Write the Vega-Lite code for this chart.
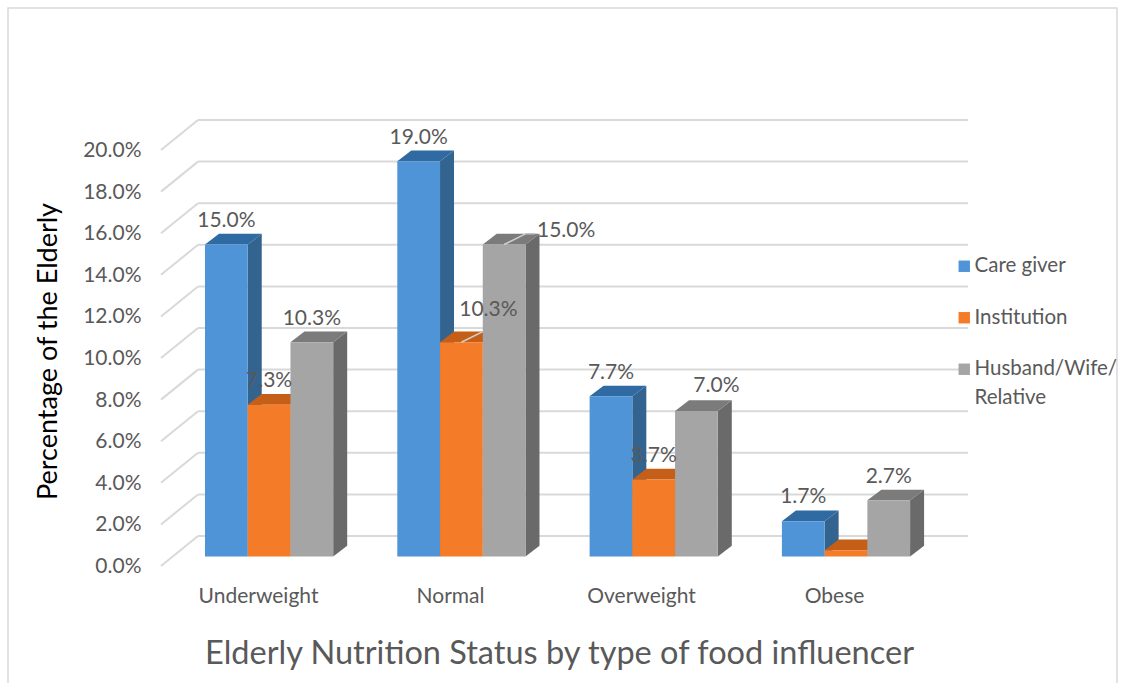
{
"$schema":"https://vega.github.io/schema/vega-lite/v6.json",
"width":1122,"height":683,"autosize":{"type":"none"},"padding":0,"background":"white",
"config":{"view":{"stroke":null},"font":"Lato"},
"resolve":{"axis":{"x":"independent","y":"independent"}},
"data":{"values":[
{"category":"Underweight","series":"Care giver","value":15.0},
{"category":"Underweight","series":"Institution","value":7.3},
{"category":"Underweight","series":"Husband/Wife/Relative","value":10.3},
{"category":"Normal","series":"Care giver","value":19.0},
{"category":"Normal","series":"Institution","value":10.3},
{"category":"Normal","series":"Husband/Wife/Relative","value":15.0},
{"category":"Overweight","series":"Care giver","value":7.7},
{"category":"Overweight","series":"Institution","value":3.7},
{"category":"Overweight","series":"Husband/Wife/Relative","value":7.0},
{"category":"Obese","series":"Care giver","value":1.7},
{"category":"Obese","series":"Institution","value":0.3},
{"category":"Obese","series":"Husband/Wife/Relative","value":2.7}
]},
"transform":[
{"calculate":"indexof(['Underweight','Normal','Overweight','Obese'],datum.category)+indexof(['Care giver','Institution','Husband/Wife/Relative'],datum.series)*0.2222","as":"xL"},
{"calculate":"datum.xL+0.2222","as":"xR"},
{"calculate":"datum.xL+0.1111","as":"xC"},
{"calculate":"datum.value+0.514","as":"topBack"},
{"calculate":"datum.category+datum.series","as":"key"}
],
"layer":[
{"data":{"values":[{"frame":1}]},
 "mark":{"type":"rect","fill":null,"stroke":"#d9d9d9","strokeWidth":1.5},
 "encoding":{
  "x":{"datum":-1.0244,"type":"quantitative","scale":{"domain":[-1.06604,4.76859],"nice":false,"zero":false},
   "axis":{"orient":"bottom","offset":-98,"values":[0.2756,1.274,2.2675,3.271],"labelExpr":"['Underweight','Normal','Overweight','Obese'][floor(datum.value)]","labelFontSize":21,"labelColor":"#595959","labelPadding":0,"labelBaseline":"top","labelOverlap":false,"labelBound":false,"labelFlush":false,"ticks":false,"domain":false,"grid":false,"title":"Elderly Nutrition Status by type of food influencer","titleFontSize":32.5,"titleFontWeight":"normal","titleColor":"#595959","titleX":559,"titleY":68,"titleBaseline":"middle"}},
  "x2":{"datum":4.7426},
  "y":{"datum":26.37,"type":"quantitative","scale":{"domain":[-6.0817,26.7548],"nice":false,"zero":false},
   "axis":{"orient":"left","offset":-161,"values":[0,2,4,6,8,10,12,14,16,18,20],"labelExpr":"format(datum.value,'.1f')+'%'","labelFontSize":21,"labelColor":"#595959","labelPadding":20,"labelOffset":10,"labelOverlap":false,"labelBound":false,"labelFlush":false,"ticks":false,"domain":false,"grid":false,"title":"Percentage of the Elderly","titleFontSize":27,"titleFontWeight":"normal","titleColor":"#000000","titleX":-113,"titleY":351,"titleBaseline":"middle"}},
  "y2":{"datum":-6.4}
 }},
{"data":{"values":[{"v":0},{"v":2},{"v":4},{"v":6},{"v":8},{"v":10},{"v":12},{"v":14},{"v":16},{"v":18},{"v":20}]},
 "transform":[{"calculate":"datum.v+0.985","as":"back"}],
 "mark":{"type":"rule","color":"#d9d9d9","strokeWidth":2},
 "encoding":{"x":{"datum":-0.0364,"type":"quantitative","axis":null},"x2":{"datum":3.968},"y":{"field":"back","type":"quantitative","axis":null}}},
{"data":{"values":[{"v":0},{"v":2},{"v":4},{"v":6},{"v":8},{"v":10},{"v":12},{"v":14},{"v":16},{"v":18},{"v":20}]},
 "transform":[{"calculate":"datum.v+0.985","as":"back"},{"calculate":"datum.v-0.457","as":"front"}],
 "mark":{"type":"rule","color":"#d9d9d9","strokeWidth":2},
 "encoding":{"x":{"datum":-0.2288,"type":"quantitative","axis":null},"x2":{"datum":-0.0364},"y":{"field":"front","type":"quantitative","axis":null},"y2":{"field":"back"}}},
{"transform":[{"calculate":"[0,1]","as":"t"},{"flatten":["t"]},{"calculate":"datum.xR+datum.t*0.0728","as":"px"},{"calculate":"datum.value+datum.t*0.514","as":"py"},{"calculate":"datum.t*0.514","as":"py2"}],
 "mark":{"type":"area","orient":"vertical"},
 "encoding":{"x":{"field":"px","type":"quantitative","axis":null},"y":{"field":"py","type":"quantitative","stack":null,"axis":null},"y2":{"field":"py2"},"detail":{"field":"key"},
  "color":{"condition":[{"test":"datum.series==='Care giver'","value":"#33638f"},{"test":"datum.series==='Institution'","value":"#c55a11"}],"value":"#6a6a6a"}}},
{"transform":[{"calculate":"[0,1]","as":"t"},{"flatten":["t"]},{"calculate":"datum.xL+datum.t*0.0728","as":"px"},{"calculate":"datum.xR+datum.t*0.0728","as":"px2"},{"calculate":"datum.value+datum.t*0.514","as":"py"}],
 "mark":{"type":"area","orient":"horizontal"},
 "encoding":{"y":{"field":"py","type":"quantitative","axis":null},"x":{"field":"px","type":"quantitative","stack":null,"axis":null},"x2":{"field":"px2"},"detail":{"field":"key"},
  "color":{"condition":[{"test":"datum.series==='Care giver'","value":"#2f6aa3"},{"test":"datum.series==='Institution'","value":"#c55f17"}],"value":"#7b7b7b"}}},
{"mark":{"type":"rect"},
 "encoding":{"x":{"field":"xL","type":"quantitative","axis":null},"x2":{"field":"xR"},"y":{"field":"value","type":"quantitative","axis":null},"y2":{"datum":0},
  "color":{"field":"series","type":"nominal","scale":{"domain":["Care giver","Institution","Husband/Wife/Relative"],"range":["#4f94d6","#f47b28","#a5a5a5"]},
   "legend":{"orient":"none","legendX":954,"legendY":256,"title":null,"symbolType":"square","symbolSize":130,"symbolStrokeWidth":0,"labelFontSize":20.5,"labelColor":"#595959","labelOffset":0,"rowPadding":30.5,"labelLimit":200,"labelExpr":"datum.label==='Husband/Wife/Relative'?['Husband/Wife/','Relative']:datum.label","encoding":{"labels":{"lineHeight":{"value":29}}}}}}},
{"transform":[{"filter":"datum.category==='Normal'&&datum.series!=='Care giver'"}],
 "mark":{"type":"rule","color":"#d0d0d0","strokeWidth":1.5},
 "encoding":{"x":{"field":"xC","type":"quantitative","axis":null},"x2":{"field":"xR"},"y":{"field":"value","type":"quantitative","axis":null},"y2":{"field":"topBack"}}},
{"transform":[{"filter":"datum.category==='Normal'&&datum.series==='Husband/Wife/Relative'"},{"calculate":"datum.xR+0.05","as":"xEnd"}],
 "mark":{"type":"rule","color":"#bfbfbf","strokeWidth":1.5},
 "encoding":{"x":{"field":"xR","type":"quantitative","axis":null},"x2":{"field":"xEnd"},"y":{"field":"topBack","type":"quantitative","axis":null}}},
{"transform":[{"filter":"datum.value>=1&&!(datum.category==='Normal'&&datum.series!=='Care giver')&&!(datum.category==='Overweight'&&datum.series==='Husband/Wife/Relative')"},{"calculate":"format(datum.value,'.1f')+'%'","as":"lab"}],
 "mark":{"type":"text","fontSize":21,"color":"#595959","dy":-13,"baseline":"middle"},
 "encoding":{"x":{"field":"xC","type":"quantitative","axis":null},"y":{"field":"topBack","type":"quantitative","axis":null},"text":{"field":"lab"}}},
{"transform":[{"filter":"datum.category==='Normal'&&datum.series==='Institution'"},{"calculate":"format(datum.value,'.1f')+'%'","as":"lab"}],
 "mark":{"type":"text","fontSize":21,"color":"#595959","dx":27,"dy":-22,"baseline":"middle"},
 "encoding":{"x":{"field":"xC","type":"quantitative","axis":null},"y":{"field":"topBack","type":"quantitative","axis":null},"text":{"field":"lab"}}},
{"transform":[{"filter":"datum.category==='Normal'&&datum.series==='Husband/Wife/Relative'"},{"calculate":"format(datum.value,'.1f')+'%'","as":"lab"}],
 "mark":{"type":"text","fontSize":21,"color":"#595959","dx":62,"dy":-3,"baseline":"middle"},
 "encoding":{"x":{"field":"xC","type":"quantitative","axis":null},"y":{"field":"topBack","type":"quantitative","axis":null},"text":{"field":"lab"}}},
{"transform":[{"filter":"datum.category==='Overweight'&&datum.series==='Husband/Wife/Relative'"},{"calculate":"format(datum.value,'.1f')+'%'","as":"lab"}],
 "mark":{"type":"text","fontSize":21,"color":"#595959","dx":20,"dy":-14,"baseline":"middle"},
 "encoding":{"x":{"field":"xC","type":"quantitative","axis":null},"y":{"field":"topBack","type":"quantitative","axis":null},"text":{"field":"lab"}}}
]
}
